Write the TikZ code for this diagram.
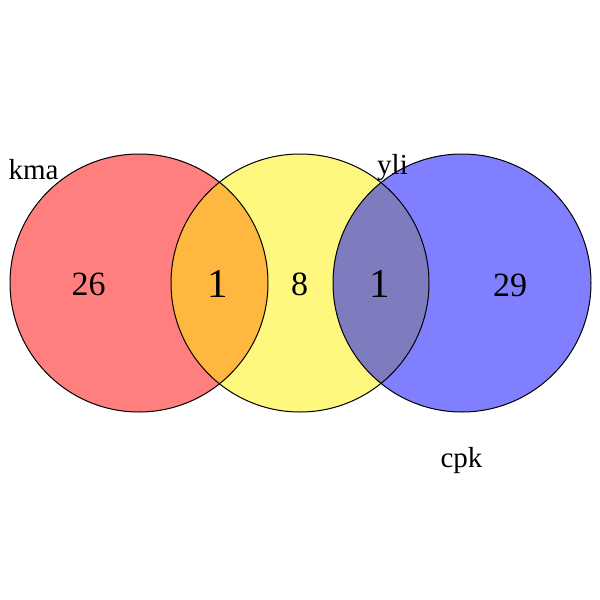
\documentclass[tikz,border=0pt]{standalone}
\usepackage{fontspec}
\setmainfont{Liberation Serif}
\begin{document}
\begin{tikzpicture}[x=1pt,y=-1pt,
  setfill/.style={fill opacity=0.5, draw=none},
  setline/.style={draw=black, line width=1pt, fill=none},
  catlabel/.style={anchor=base, inner sep=0pt, font=\fontsize{29}{29}\selectfont},
  countlabel/.style={anchor=base, inner sep=0pt, font=\fontsize{34}{34}\selectfont},
  bigcount/.style={anchor=base, inner sep=0pt, font=\fontsize{41}{41}\selectfont}]
\useasboundingbox (0,0) rectangle (600,600);
\fill[white] (0,0) rectangle (600,600);
% fills
\fill[setfill, red] (139,283) circle (129);
\fill[setfill, yellow] (300,283) circle (129);
\fill[setfill, blue] (462,283) circle (129);
% outlines
\draw[setline] (139,283) circle (129);
\draw[setline] (300,283) circle (129);
\draw[setline] (462,283) circle (129);
% counts
\node[countlabel] (n26) at (88.5,295) {26};
\node[bigcount] (n1a) at (218,297) {1};
\node[countlabel] (n8) at (299.5,295) {8};
\node[bigcount] (n1b) at (380,297) {1};
\node[countlabel] (n29) at (510,296) {29};
% category labels
\node[catlabel] (kma) at (33.5,179) {kma};
\node[catlabel] (yli) at (392.5,174) {yli};
\node[catlabel] (cpk) at (461.5,467) {cpk};
\end{tikzpicture}
\end{document}
